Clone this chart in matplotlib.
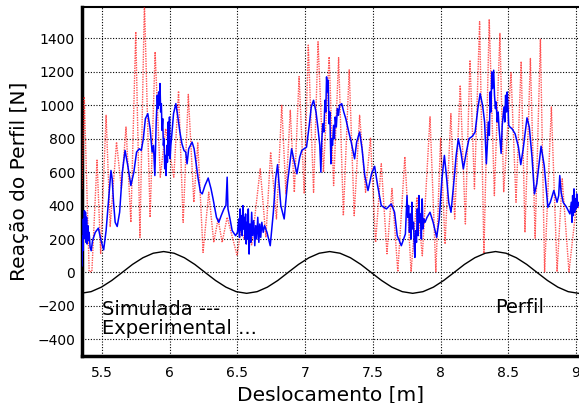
import matplotlib
matplotlib.use("Agg")
import matplotlib.pyplot as plt

# Road profile (Perfil) under the wheel, [m] and [N]-scaled height
perfil_x = [5.342, 5.419, 5.495, 5.572, 5.649, 5.725, 5.802, 5.878, 5.955, 6.032,
            6.108, 6.185, 6.261, 6.338, 6.415, 6.491, 6.568, 6.645, 6.721, 6.798,
            6.874, 6.951, 7.028, 7.104, 7.181, 7.257, 7.334, 7.411, 7.487, 7.564,
            7.640, 7.717, 7.794, 7.870, 7.947, 8.023, 8.100, 8.176, 8.253, 8.330,
            8.406, 8.483, 8.559, 8.636, 8.712, 8.789, 8.866, 8.942, 9.019]
perfil_y = [-125, -115, -88, -48, 0, 48, 88, 115, 125, 115,
            88, 48, 0, -48, -88, -115, -125, -115, -88, -48,
            0, 48, 88, 115, 125, 115, 88, 48, 0, -48,
            -88, -115, -125, -115, -88, -48, 0, 48, 88, 115,
            125, 115, 88, 48, 0, -48, -88, -115, -125]

# Experimental reaction (dotted red)
exp_x = [5.352, 5.369, 5.405, 5.425, 5.463, 5.49, 5.53, 5.56, 5.607, 5.643,
         5.677, 5.713, 5.749, 5.78, 5.813, 5.855, 5.892, 5.93, 5.97, 6.03,
         6.065, 6.099, 6.137, 6.178, 6.207, 6.246, 6.288, 6.325, 6.357, 6.387,
         6.424, 6.498, 6.525, 6.55, 6.575, 6.605, 6.668, 6.71, 6.745, 6.788,
         6.827, 6.858, 6.89, 6.92, 6.955, 6.993, 7.023, 7.062, 7.095, 7.135,
         7.177, 7.21, 7.247, 7.282, 7.325, 7.362, 7.402, 7.446, 7.482, 7.52,
         7.562, 7.604, 7.641, 7.684, 7.736, 7.782, 7.825, 7.865, 7.922, 7.965,
         8.0, 8.033, 8.076, 8.104, 8.145, 8.183, 8.217, 8.25, 8.288, 8.32,
         8.359, 8.397, 8.438, 8.466, 8.52, 8.557, 8.595, 8.623, 8.663, 8.698,
         8.737, 8.768, 8.818, 8.86, 8.898, 8.948, 9.008, 9.022]
exp_y = [500, 1050, 5, 5, 672, 110, 940, 275, 780, 500,
         870, 300, 1440, 210, 1620, 330, 1320, 570, 860, 570,
         1085, 300, 1065, 420, 775, 120, 480, 180, 320, 180,
         330, 100, 260, 200, 290, 165, 620, 210, 720, 320,
         1000, 470, 970, 480, 1172, 472, 1360, 480, 1380, 600,
         1290, 520, 1285, 340, 1212, 340, 940, 480, 803, 180,
         650, 112, 502, 4, 692, 4, 450, 100, 931, 4,
         803, 170, 950, 320, 1120, 290, 1270, 500, 1500, 114,
         1515, 460, 1430, 480, 1195, 420, 1262, 240, 1280, 205,
         1395, 4, 990, 4, 560, 4, 440, 380]

# Simulated reaction (solid blue)
sim_x = [5.352, 5.355, 5.358, 5.362, 5.366, 5.370, 5.374, 5.378, 5.382, 5.386,
         5.390, 5.395, 5.400, 5.405, 5.412, 5.42, 5.43, 5.45, 5.473, 5.49,
         5.512, 5.53, 5.55, 5.566, 5.575, 5.585, 5.597, 5.612, 5.63, 5.65,
         5.67, 5.69, 5.713, 5.735, 5.755, 5.775, 5.79, 5.805, 5.82, 5.838,
         5.855, 5.87, 5.88, 5.89, 5.9, 5.908, 5.913, 5.918, 5.923, 5.928,
         5.933, 5.938, 5.943, 5.948, 5.953, 5.958, 5.963, 5.968, 5.973, 5.978,
         5.983, 5.988, 5.993, 5.998, 6.003, 6.008, 6.015, 6.028, 6.045, 6.06,
         6.075, 6.09, 6.105, 6.118, 6.128, 6.14, 6.165, 6.18, 6.195, 6.21,
         6.227, 6.24, 6.26, 6.284, 6.305, 6.32, 6.345, 6.362, 6.38, 6.4,
         6.415, 6.424, 6.43, 6.445, 6.461, 6.486, 6.50, 6.51, 6.515, 6.52,
         6.525, 6.53, 6.535, 6.54, 6.545, 6.55, 6.555, 6.56, 6.565, 6.57,
         6.575, 6.58, 6.586, 6.592, 6.598, 6.605, 6.612, 6.62, 6.628, 6.635,
         6.642, 6.65, 6.658, 6.665, 6.672, 6.68, 6.69, 6.70, 6.718, 6.742,
         6.765, 6.782, 6.796, 6.81, 6.82, 6.845, 6.87, 6.9, 6.92, 6.939,
         6.96, 6.975, 6.993, 7.01, 7.03, 7.045, 7.062, 7.08, 7.095, 7.108,
         7.116, 7.122, 7.13, 7.138, 7.146, 7.152, 7.158, 7.164, 7.17, 7.176,
         7.182, 7.19, 7.196, 7.202, 7.21, 7.216, 7.222, 7.23, 7.238, 7.246,
         7.254, 7.27, 7.285, 7.3, 7.322, 7.34, 7.365, 7.38, 7.402, 7.42,
         7.44, 7.464, 7.49, 7.513, 7.535, 7.562, 7.6, 7.636, 7.66, 7.68,
         7.71, 7.74, 7.747, 7.752, 7.758, 7.764, 7.77, 7.776, 7.782, 7.788,
         7.794, 7.80, 7.806, 7.81, 7.816, 7.822, 7.828, 7.834, 7.84, 7.846,
         7.852, 7.858, 7.864, 7.87, 7.876, 7.885, 7.9, 7.922, 7.945, 7.971,
         7.99, 8.01, 8.028, 8.045, 8.06, 8.077, 8.1, 8.115, 8.131, 8.15,
         8.168, 8.19, 8.21, 8.235, 8.255, 8.275, 8.292, 8.31, 8.325, 8.338,
         8.345, 8.352, 8.36, 8.366, 8.372, 8.378, 8.384, 8.392, 8.398, 8.405,
         8.41, 8.418, 8.425, 8.432, 8.44, 8.447, 8.455, 8.462, 8.468, 8.474,
         8.48, 8.486, 8.492, 8.497, 8.503, 8.512, 8.527, 8.55, 8.575, 8.592,
         8.61, 8.638, 8.655, 8.675, 8.693, 8.71, 8.742, 8.765, 8.792, 8.81,
         8.836, 8.86, 8.872, 8.88, 8.89, 8.905, 8.93, 8.955, 8.965, 8.97,
         8.975, 8.98, 8.985, 8.99, 8.995, 9.0, 9.005, 9.01, 9.015, 9.022]
sim_y = [40, 220, 130, 320, 200, 370, 240, 360, 180, 330,
         170, 280, 190, 240, 150, 130, 190, 240, 265, 200,
         135, 250, 450, 610, 560, 420, 300, 275, 360, 600,
         730, 640, 520, 600, 720, 740, 730, 800, 920, 950,
         860, 720, 760, 580, 900, 1060, 980, 1080, 1000, 1130,
         960, 1010, 850, 920, 760, 800, 620, 700, 580, 760,
         660, 900, 700, 930, 680, 760, 820, 950, 1010, 930,
         840, 770, 730, 720, 650, 740, 780, 740, 650, 560,
         480, 470, 520, 565, 500, 440, 330, 300, 340, 380,
         400, 570, 380, 320, 250, 220, 240, 320, 210, 380,
         250, 340, 220, 400, 260, 330, 200, 350, 170, 300,
         200, 380, 110, 290, 180, 360, 220, 310, 160, 280,
         200, 330, 180, 290, 210, 300, 240, 280, 240, 160,
         360, 560, 645, 500, 400, 320, 540, 740, 660, 590,
         690, 730, 740, 750, 880, 990, 1030, 960, 860, 760,
         600, 780, 890, 840, 1030, 960, 1170, 1080, 1150, 890,
         960, 650, 800, 760, 880, 800, 930, 870, 980, 940,
         1000, 1010, 960, 920, 840, 780, 680, 780, 840, 740,
         580, 490, 590, 635, 520, 400, 380, 410, 360, 220,
         160, 230, 360, 460, 330, 400, 240, 350, 200, 420,
         260, 300, 150, 90, 250, 180, 380, 220, 460, 300,
         350, 200, 440, 260, 320, 300, 330, 360, 300, 210,
         320, 560, 700, 560, 420, 360, 560, 700, 800, 720,
         620, 720, 800, 815, 840, 980, 1070, 1000, 900, 650,
         760, 900, 820, 1080, 960, 1200, 1100, 1210, 1060, 980,
         1020, 900, 960, 860, 780, 712, 880, 940, 990, 900,
         1060, 960, 1080, 1000, 880, 870, 860, 830, 750, 645,
         740, 925, 870, 690, 470, 530, 755, 640, 390, 420,
         490, 420, 460, 580, 480, 420, 390, 350, 420, 300,
         460, 340, 500, 360, 440, 380, 470, 390, 420, 400]

x_ticks = [5.5, 6, 6.5, 7, 7.5, 8, 8.5, 9]
x_tick_labels = ["5.5", "6", "6.5", "7", "7.5", "8", "8.5", "9"]
y_ticks = [-400, -200, 0, 200, 400, 600, 800, 1000, 1200, 1400]

plt.rcParams["font.family"] = ["DejaVu Sans"]

fig = plt.figure(figsize=(5.79, 4.03), dpi=100)
ax = fig.add_axes([0.1416, 0.1166, 0.8584, 0.8668])

ax.plot(exp_x, exp_y, color="#ff1a1a", alpha=0.75, linewidth=1.0,
        linestyle=(0, (1, 0.8)), zorder=3)
ax.plot(sim_x, sim_y, color="#0000ff", linewidth=1.1, zorder=4)
ax.plot(perfil_x, perfil_y, color="black", linewidth=1.0, zorder=5)

ax.set_xlim(5.352, 9.022)
ax.set_ylim(-500, 1590)
ax.set_xticks(x_ticks)
ax.set_xticklabels(x_tick_labels)
ax.set_yticks(y_ticks)
ax.tick_params(axis="both", length=0, labelsize=10, pad=5)
ax.tick_params(axis="x", pad=7)

ax.grid(True, color="black", linestyle=(0, (1, 1.5)), linewidth=0.8)
ax.set_axisbelow(True)

ax.spines["left"].set_linewidth(2.5)
ax.spines["bottom"].set_linewidth(2.5)
ax.spines["top"].set_linewidth(1.5)
ax.spines["right"].set_visible(False)

ax.set_xlabel("Deslocamento [m]", fontsize=14.5, labelpad=4)
ax.set_ylabel("Reação do Perfil [N]", fontsize=14.5, labelpad=6)

ax.text(5.5, -255, "Simulada ---", fontsize=14, va="baseline", ha="left", zorder=6)
ax.text(5.5, -369, "Experimental ...", fontsize=14, va="baseline", ha="left", zorder=6)
ax.text(8.405, -242, "Perfil", fontsize=14, va="baseline", ha="left", zorder=6)

fig.savefig("out.png", dpi=100)
